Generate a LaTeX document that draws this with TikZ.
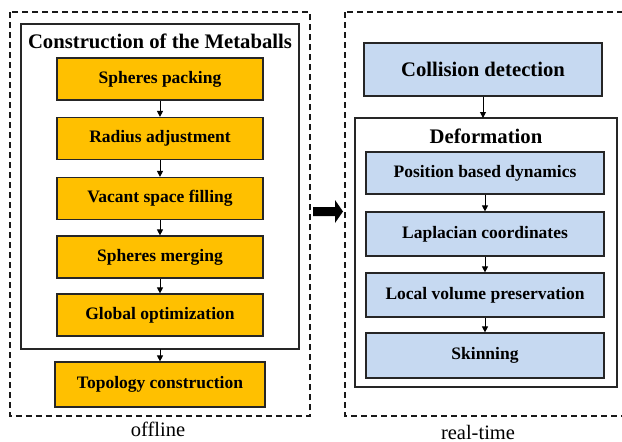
\documentclass[tikz,border=0pt]{standalone}
\usepackage{fontspec}
\setmainfont{Liberation Serif}
\usetikzlibrary{arrows.meta}

\definecolor{gold}{HTML}{FFC000}
\definecolor{paleblue}{HTML}{C6D9F1}

\begin{document}
\begin{tikzpicture}[x=1pt,y=-1pt,
    >={Triangle[length=6pt,width=6pt]},
    stage/.style={draw=black!85,line width=1.2pt,minimum height=42pt,
      font=\bfseries\fontsize{17.5}{19}\selectfont},
    offstage/.style={stage,fill=gold,minimum width=206pt},
    onstage/.style={stage,fill=paleblue,minimum width=238pt},
    frame/.style={draw=black!85,line width=1.2pt},
    dashframe/.style={draw=black!90,line width=1.2pt,dash pattern=on 6pt off 4pt},
    heading/.style={font=\bfseries\fontsize{20.7}{22}\selectfont},
    caption/.style={font=\fontsize{20.5}{22}\selectfont}]
   \useasboundingbox (0,0) rectangle (622,442);

   % offline part
   \draw[dashframe] (10,12) rectangle (310,416);
   \draw[frame] (21,24) rectangle (299,349);
   \coordinate (cbot) at (160,349);
   \node[heading] (ctitle) at (160,41) {Construction of the Metaballs};
   \node[offstage] (sp) at (160,79)    {Spheres packing};
   \node[offstage] (ra) at (160,138.5) {Radius adjustment};
   \node[offstage] (vs) at (160,198.5) {Vacant space filling};
   \node[offstage] (sm) at (160,257)   {Spheres merging};
   \node[offstage] (go) at (160,315)   {Global optimization};
   \node[offstage,minimum width=210pt,minimum height=45pt] (tc) at (160,384.5) {Topology construction};
   \node[caption] (off) at (158,429) {offline};

   \path[->,line width=1pt] (sp) edge (ra);
   \path[->,line width=1pt] (ra) edge (vs);
   \path[->,line width=1pt] (vs) edge (sm);
   \path[->,line width=1pt] (sm) edge (go);
   \path[->,line width=1pt] (cbot) edge (tc);

   % real-time part
   \draw[dashframe] (345,12) rectangle (640,416);
   \node[onstage,heading,minimum height=53pt] (cd) at (483,69.5) {Collision detection};
   \draw[frame] (355,118) rectangle (617,387);
   \coordinate (dtop) at (483,118);
   \node[heading] (dtitle) at (486,136) {Deformation};
   \node[onstage] (pbd) at (485,173)   {Position based dynamics};
   \node[onstage,minimum height=44pt] (lc)  at (485,234)   {Laplacian coordinates};
   \node[onstage,minimum height=44pt] (lvp) at (485,295)   {Local volume preservation};
   \node[onstage,minimum height=45pt] (sk)  at (485,355.5) {Skinning};
   \node[caption] (rt) at (478,432) {real-time};

   \path[->,line width=1pt] (cd) edge (dtop);
   \path[->,line width=1pt] (pbd) edge (lc);
   \path[->,line width=1pt] (lc) edge (lvp);
   \path[->,line width=1pt] (lvp) edge (sk);

   % big arrow between the parts
   \fill (313,207) -- (335,207) -- (335,200) -- (343,211.5)
      -- (335,223) -- (335,216) -- (313,216) -- cycle;
\end{tikzpicture}
\end{document}
